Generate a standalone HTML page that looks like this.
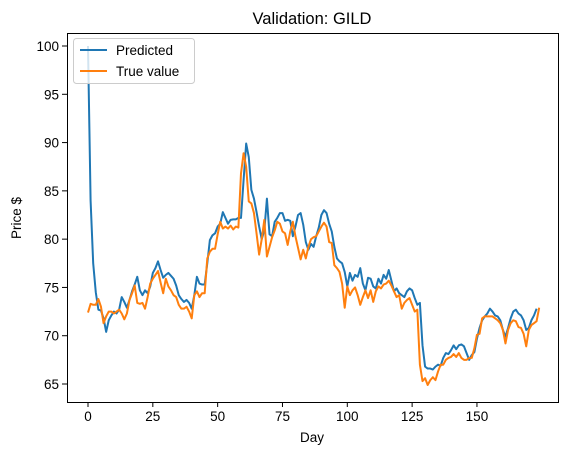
<!DOCTYPE html>
<html><head><meta charset="utf-8"><style>
body{margin:0;background:#fff;font-family:"Liberation Sans",sans-serif;}
svg text{font-family:"Liberation Sans","DejaVu Sans",sans-serif;fill:#000;}
</style></head><body>
<svg id="chart" width="571" height="455" viewBox="0 0 571 455" xmlns="http://www.w3.org/2000/svg">
<rect x="0" y="0" width="571" height="455" fill="#fff"/>
<text x="312" y="24" font-size="16.5" text-anchor="middle">Validation: GILD</text>
<g id="series"></g>
<rect x="67.5" y="33.5" width="491" height="369" fill="none" stroke="#000" stroke-width="1"/>
<g id="xticks"></g><g id="yticks"></g>
<text x="312" y="442" font-size="13.5" text-anchor="middle">Day</text>
<text x="21" y="218" font-size="13.5" text-anchor="middle" transform="rotate(-90 21 218)">Price $</text>
<g>
<rect x="73.5" y="38.5" width="121" height="45" rx="3" fill="#fff" fill-opacity="0.8" stroke="#ccc"/>
<line x1="80" y1="50" x2="107" y2="50" stroke="#1f77b4" stroke-width="2"/>
<text x="116" y="55" font-size="13.5">Predicted</text>
<line x1="80" y1="71" x2="107" y2="71" stroke="#ff7f0e" stroke-width="2"/>
<text x="116" y="76" font-size="13.5">True value</text>
</g>
</svg>
<script>
const xTicks=[0,25,50,75,100,125,150];
const yTicks=[65,70,75,80,85,90,95,100];
const predicted=[100,84,77.5,74.5,72.7,72.6,71.8,70.4,71.6,72.1,72.5,72.3,72.7,74.0,73.5,72.9,73.7,74.6,75.3,76.1,74.7,74.2,74.7,74.4,75.1,76.5,77.0,77.7,76.8,76.0,
76.3,76.5,76.2,75.9,75.2,74.2,73.8,73.5,73.7,73.4,72.8,74.2,76.1,75.4,75.3,75.3,77.5,79.9,80.4,80.6,81.3,81.6,82.8,82.2,81.6,82.0,82.05,82.05,82.2,82.2,
86.1,89.9,88.5,85.1,84.2,82.8,81.3,80.0,80.9,84.2,80.5,80.3,81.8,82.2,82.7,82.7,81.9,82.0,81.9,80.3,81.3,82.5,82.7,81.5,79.7,78.9,79.5,79.2,80.3,81.2,
82.5,83.0,82.7,81.6,80.8,79.2,78.0,77.7,77.5,76.6,75.1,76.5,75.7,76.3,76.1,77.0,75.4,74.7,76.0,75.9,75.1,74.9,75.9,75.4,76.3,75.9,76.8,75.7,74.6,74.9,
74.4,74.2,74.0,74.6,74.9,74.7,73.9,73.2,73.4,69.0,66.8,66.6,66.6,66.5,66.8,67.0,66.9,67.7,68.2,68.1,68.5,69.0,68.6,
69.0,69.1,68.9,68.2,67.5,68.0,68.3,69.7,70.8,71.6,72.0,72.3,72.8,72.5,72.1,72.0,71.6,70.6,69.9,70.8,71.8,72.5,72.7,72.3,72.1,71.6,70.6,70.8,71.6,72.1,72.8];
const trueValue=[72.4,73.3,73.2,73.2,73.8,73.0,71.3,72.0,72.5,72.5,72.3,72.5,72.7,72.3,71.7,72.3,73.7,74.4,75.2,73.4,73.3,73.4,72.8,74.0,75.4,75.9,76.3,76.7,75.5,
74.4,75.9,75.1,74.7,74.2,74.0,73.2,72.8,72.8,73.0,72.5,71.8,74.2,74.6,74.0,74.4,74.4,78.0,78.7,79.0,79.0,80.5,81.8,81.1,81.3,81.1,81.4,81.0,81.3,81.2,
86.8,88.9,87.5,83.9,83.7,82.7,80.6,78.4,80.0,82.0,78.2,79.2,80.2,80.9,81.8,81.6,80.8,80.6,79.4,80.8,81.8,80.3,79.1,77.9,78.9,78.0,79.2,80.0,80.2,
80.3,80.8,81.3,81.7,81.3,79.7,79.6,77.3,77.0,76.6,75.4,72.9,75.1,74.2,74.7,75.0,74.2,73.2,74.0,74.7,73.9,74.7,73.5,74.6,75.1,74.9,75.3,75.4,75.7,75.2,
74.6,74.0,74.2,72.8,73.4,73.7,73.9,73.2,72.5,72.7,67.0,65.3,65.6,64.9,65.4,65.7,65.4,66.3,67.0,67.0,67.5,67.7,67.8,68.1,67.8,
68.2,67.7,67.5,67.5,67.7,67.7,68.7,70.1,70.2,71.8,72.0,72.0,72.0,72.0,71.8,71.6,71.3,70.6,69.2,70.6,71.3,71.6,71.5,70.9,70.8,70.2,68.9,70.6,71.1,71.3,71.5,72.9];
const NS='http://www.w3.org/2000/svg';
function xs(d){return 88+d*2.593;}
function ys(v){return 384-(v-65)*9.657;}
const series=document.getElementById('series');
function drawLine(arr,color,name){
  const p=document.createElementNS(NS,'polyline');
  p.setAttribute('points',arr.map((v,i)=>xs(i).toFixed(2)+','+ys(v).toFixed(2)).join(' '));
  p.setAttribute('fill','none');p.setAttribute('stroke',color);p.setAttribute('stroke-width','2');
  p.setAttribute('stroke-linejoin','round');
  
  
  series.appendChild(p);
}
drawLine(predicted,'#1f77b4','predicted-line');
drawLine(trueValue,'#ff7f0e','true-value-line');
const xg=document.getElementById('xticks');
xTicks.forEach(t=>{
  const x=xs(t);
  const l=document.createElementNS(NS,'line');
  l.setAttribute('x1',x);l.setAttribute('x2',x);l.setAttribute('y1',402);l.setAttribute('y2',407);l.setAttribute('stroke','#000');
  
  
  xg.appendChild(l);
  const tx=document.createElementNS(NS,'text');
  tx.setAttribute('x',x);tx.setAttribute('y',421);tx.setAttribute('font-size','13.5');tx.setAttribute('text-anchor','middle');
  tx.textContent=t;
  
  
  xg.appendChild(tx);
});
const yg=document.getElementById('yticks');
yTicks.forEach(t=>{
  const y=ys(t);
  const l=document.createElementNS(NS,'line');
  l.setAttribute('x1',62);l.setAttribute('x2',67);l.setAttribute('y1',y);l.setAttribute('y2',y);l.setAttribute('stroke','#000');
  
  
  yg.appendChild(l);
  const tx=document.createElementNS(NS,'text');
  tx.setAttribute('x',59);tx.setAttribute('y',y+5);tx.setAttribute('font-size','13.5');tx.setAttribute('text-anchor','end');
  tx.textContent=t;
  
  
  yg.appendChild(tx);
});
</script>
</body></html>
